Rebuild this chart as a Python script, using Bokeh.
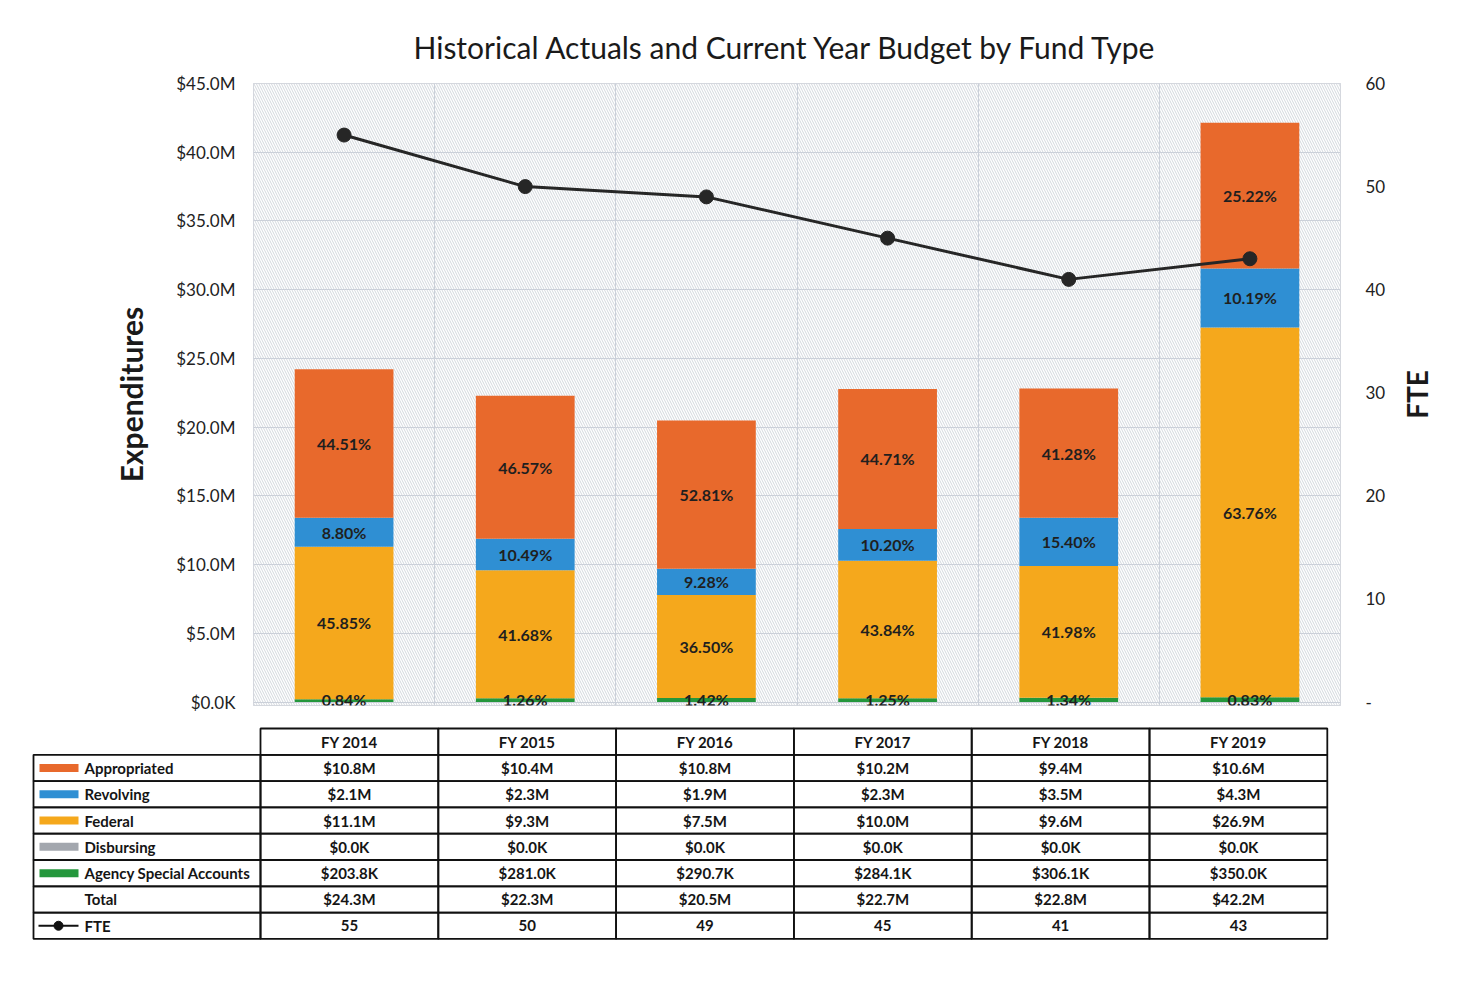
import math
from bokeh.plotting import figure
from bokeh.models import Range1d, LinearAxis, FixedTicker, Grid, BoxAnnotation, ColumnDataSource, LabelSet
from bokeh.layouts import row
from bokeh.embed import file_html
from bokeh.resources import INLINE
from bokeh.core.properties import value

# ---------------- data ----------------
years = ["FY 2014", "FY 2015", "FY 2016", "FY 2017", "FY 2018", "FY 2019"]
appropriated = [10.8, 10.4, 10.8, 10.2, 9.4, 10.6]      # $M
revolving = [2.1, 2.3, 1.9, 2.3, 3.5, 4.3]
federal = [11.1, 9.3, 7.5, 10.0, 9.6, 26.9]
disbursing = [0.0, 0.0, 0.0, 0.0, 0.0, 0.0]
agency = [0.2038, 0.2810, 0.2907, 0.2841, 0.3061, 0.3500]
fte = [55, 50, 49, 45, 41, 43]

pct_appropriated = ["44.51%", "46.57%", "52.81%", "44.71%", "41.28%", "25.22%"]
pct_revolving = ["8.80%", "10.49%", "9.28%", "10.20%", "15.40%", "10.19%"]
pct_federal = ["45.85%", "41.68%", "36.50%", "43.84%", "41.98%", "63.76%"]
pct_agency = ["0.84%", "1.26%", "1.42%", "1.25%", "1.34%", "0.83%"]

tbl_appropriated = ["$10.8M", "$10.4M", "$10.8M", "$10.2M", "$9.4M", "$10.6M"]
tbl_revolving = ["$2.1M", "$2.3M", "$1.9M", "$2.3M", "$3.5M", "$4.3M"]
tbl_federal = ["$11.1M", "$9.3M", "$7.5M", "$10.0M", "$9.6M", "$26.9M"]
tbl_disbursing = ["$0.0K", "$0.0K", "$0.0K", "$0.0K", "$0.0K", "$0.0K"]
tbl_agency = ["$203.8K", "$281.0K", "$290.7K", "$284.1K", "$306.1K", "$350.0K"]
tbl_total = ["$24.3M", "$22.3M", "$20.5M", "$22.7M", "$22.8M", "$42.2M"]
tbl_fte = ["55", "50", "49", "45", "41", "43"]

row_names = ["Appropriated", "Revolving", "Federal", "Disbursing",
             "Agency Special Accounts", "Total", "FTE"]

left_ticks = [0, 5, 10, 15, 20, 25, 30, 35, 40, 45]
left_tick_labels = ["$0.0K", "$5.0M", "$10.0M", "$15.0M", "$20.0M",
                    "$25.0M", "$30.0M", "$35.0M", "$40.0M", "$45.0M"]
right_ticks = [0, 10, 20, 30, 40, 50, 60]
right_tick_labels = ["-", "10", "20", "30", "40", "50", "60"]
right_axis_title = "FTE"

# ---------------- styles ----------------
C_APP = "#E8692C"
C_REV = "#2F8FD3"
C_FED = "#F5A81C"
C_DIS = "#A3A7AE"
C_AGY = "#24973C"
FONT = "Lato"

# ---------------- chart ----------------
xs = [i + 0.5 for i in range(len(years))]
src = ColumnDataSource(dict(
    x=xs, agency=agency, disbursing=disbursing, federal=federal,
    revolving=revolving, appropriated=appropriated,
))

y_lo, y_hi = -0.25, 45
px_per_m = 619.0 / 45.0
frame_h = (y_hi - y_lo) * px_per_m
top_b = 83
fig_h = 720
bot_b = int(round(fig_h - top_b - frame_h))

p = figure(width=1390, height=fig_h, x_range=Range1d(0, 6), y_range=Range1d(y_lo, y_hi),
           x_axis_type=None, toolbar_location=None, output_backend="svg",
           min_border_left=253, min_border_right=50, min_border_top=top_b,
           min_border_bottom=bot_b)
p.extra_y_ranges = {"fte": Range1d(y_lo * 60 / 45, 60)}

p.title.text = "Historical Actuals and Current Year Budget by Fund Type"
p.title.text_font = FONT
p.title.text_font_size = "30px"
p.title.text_font_style = "normal"
p.title.text_color = "#1a1a1a"
p.title.align = "left"
p.title.offset = 160
p.title.standoff = 38

p.background_fill_color = "white"
p.border_fill_color = "white"
p.outline_line_color = "#c8ccd4"

hatch = BoxAnnotation(fill_color="white", fill_alpha=1.0, line_color=None,
                      hatch_pattern="\\", hatch_color="#bfc5cf", hatch_scale=5,
                      hatch_weight=0.7, level="image")
p.add_layout(hatch)

p.ygrid.grid_line_color = "#cbd0d9"
p.ygrid.ticker = FixedTicker(ticks=left_ticks)
p.add_layout(Grid(dimension=0, ticker=FixedTicker(ticks=list(range(7))),
                  grid_line_color="#cbd0d9"))

ax = p.yaxis[0]
ax.ticker = FixedTicker(ticks=left_ticks)
ax.major_label_overrides = {t: l for t, l in zip(left_ticks, left_tick_labels)}
ax.axis_label = "Expenditures"
ax.axis_label_text_font = FONT
ax.axis_label_text_font_size = "30px"
ax.axis_label_text_font_style = "bold"
ax.axis_label_text_color = "#1a1a1a"
ax.axis_label_standoff = 24
ax.major_label_text_font = FONT
ax.major_label_text_font_size = "17px"
ax.major_label_text_color = "#222222"
ax.major_label_standoff = 18
ax.major_tick_out = 0
ax.major_tick_in = 0
ax.minor_tick_out = 0
ax.minor_tick_in = 0
ax.axis_line_color = None
ax.major_tick_line_color = None
ax.minor_tick_line_color = None

rax = LinearAxis(y_range_name="fte", ticker=FixedTicker(ticks=right_ticks))
rax.major_label_overrides = {t: l for t, l in zip(right_ticks, right_tick_labels)}
rax.major_label_text_font = FONT
rax.major_label_text_font_size = "17px"
rax.major_label_text_color = "#222222"
rax.major_label_standoff = 25
rax.major_tick_out = 0
rax.major_tick_in = 0
rax.minor_tick_out = 0
rax.minor_tick_in = 0
rax.axis_line_color = None
rax.major_tick_line_color = None
rax.minor_tick_line_color = None
p.add_layout(rax, "right")

stack_keys = ["agency", "disbursing", "federal", "revolving", "appropriated"]
stack_cols = [C_AGY, C_DIS, C_FED, C_REV, C_APP]
p.vbar_stack(stack_keys, x="x", width=0.545, color=stack_cols, line_color=None,
             source=src)

p.line(xs, fte, y_range_name="fte", line_color="#262626", line_width=3)
p.scatter(xs, fte, y_range_name="fte", size=14, fill_color="#262626",
          line_color="#262626")

lab_x, lab_y, lab_t = [], [], []
for i in range(len(years)):
    b0 = agency[i] + disbursing[i]
    b1 = b0 + federal[i]
    b2 = b1 + revolving[i]
    b3 = b2 + appropriated[i]
    lab_x += [xs[i], xs[i], xs[i]]
    lab_y += [(b0 + b1) / 2, (b1 + b2) / 2, (b2 + b3) / 2]
    lab_t += [pct_federal[i], pct_revolving[i], pct_appropriated[i]]
lab_src = ColumnDataSource(dict(x=lab_x, y=lab_y, t=lab_t))
labels = LabelSet(x="x", y="y", text="t", source=lab_src, text_align="center",
                  text_baseline="middle", text_font=value(FONT),
                  text_font_size="16px", text_font_style="bold",
                  text_color="#1f1f1f")
bot_src = ColumnDataSource(dict(x=xs, y=[0] * len(xs), t=pct_agency))
bot_labels = LabelSet(x="x", y="y", text="t", source=bot_src, text_align="center",
                      text_baseline="middle", y_offset=3, text_font=value(FONT),
                      text_font_size="16px", text_font_style="bold",
                      text_color="#1f1f1f")
p.add_layout(labels)
p.add_layout(bot_labels)

# ---------------- right-hand axis title (reads bottom to top) ----------------
f = figure(width=60, height=fig_h, x_range=Range1d(0, 60), y_range=Range1d(0, 1),
           x_axis_type=None, y_axis_type=None, toolbar_location=None,
           output_backend="svg", min_border=0)
f.outline_line_color = None
f.background_fill_color = "white"
f.border_fill_color = "white"
f.text(x=[26], y=[0.5], text=[right_axis_title], angle=math.pi / 2,
       text_align="center", text_baseline="middle", text_font=value(FONT),
       text_font_size="28px", text_font_style="bold", text_color="#1a1a1a")

# ---------------- data table ----------------
t = figure(width=1450, height=253, x_range=Range1d(0, 1450), y_range=Range1d(973, 720),
           x_axis_type=None, y_axis_type=None, toolbar_location=None,
           output_backend="svg", min_border=0)
t.outline_line_color = None
t.background_fill_color = "white"
t.border_fill_color = "white"

col_left = 260.0
col_w = 177.8
hdr_top, row_h = 728.0, 26.3
leg_left = 33.0
n = len(years)

rows = [tbl_appropriated, tbl_revolving, tbl_federal, tbl_disbursing,
        tbl_agency, tbl_total, tbl_fte]

ql, qr, qt, qb = [], [], [], []
for j in range(n):
    ql.append(col_left + j * col_w); qr.append(col_left + (j + 1) * col_w)
    qt.append(hdr_top); qb.append(hdr_top + row_h)
for r in range(len(rows)):
    top = hdr_top + (r + 1) * row_h
    ql.append(leg_left); qr.append(col_left); qt.append(top); qb.append(top + row_h)
    for j in range(n):
        ql.append(col_left + j * col_w); qr.append(col_left + (j + 1) * col_w)
        qt.append(top); qb.append(top + row_h)
t.quad(left=ql, right=qr, top=qt, bottom=qb, fill_color=None,
       line_color="#111111", line_width=1.8)

tx, ty, tt = [], [], []
for j in range(n):
    tx.append(col_left + (j + 0.5) * col_w); ty.append(hdr_top + row_h / 2); tt.append(years[j])
for r, vals in enumerate(rows):
    cy = hdr_top + (r + 1.5) * row_h
    for j in range(n):
        tx.append(col_left + (j + 0.5) * col_w); ty.append(cy); tt.append(vals[j])
t.text(x=tx, y=ty, text=tt, text_align="center", text_baseline="middle",
       text_font=value(FONT), text_font_size="15px", text_font_style="bold",
       text_color="#151515")

lx, ly = [], []
for r, name in enumerate(row_names):
    lx.append(84); ly.append(hdr_top + (r + 1.5) * row_h)
t.text(x=lx, y=ly, text=row_names, text_align="left", text_baseline="middle",
       text_font=value(FONT), text_font_size="15px", text_font_style="bold",
       text_color="#151515")

sw_cols = [C_APP, C_REV, C_FED, C_DIS, C_AGY]
sw_y = [hdr_top + (r + 1.5) * row_h for r in range(len(sw_cols))]
t.rect(x=[58.5] * len(sw_cols), y=sw_y, width=39, height=8, fill_color=sw_cols,
       line_color=None)
fte_y = hdr_top + (6 + 1.5) * row_h
t.line([38, 78], [fte_y, fte_y], line_color="#111111", line_width=2.2)
t.scatter([58], [fte_y], size=9, fill_color="#111111", line_color="#111111")

open("out.html", "w").write(file_html([row(p, f, spacing=0), t], INLINE))
